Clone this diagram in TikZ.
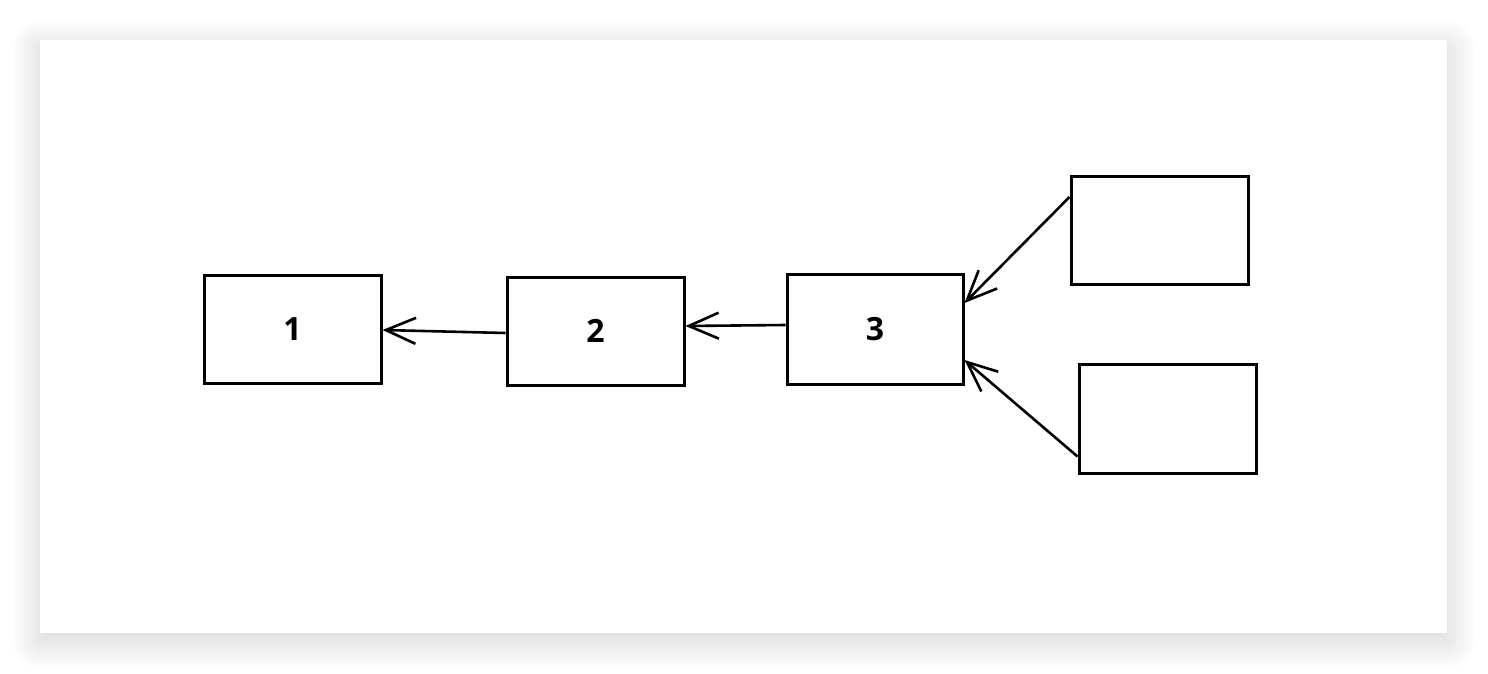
\documentclass[tikz,border=0pt]{standalone}
\usepackage{fontspec}
\setmainfont{Open Sans}
\usetikzlibrary{arrows.meta,shadows.blur}
\begin{document}
\begin{tikzpicture}[x=1pt,y=-1pt,
  card/.style={fill=white,draw=none,
    blur shadow={shadow xshift=0pt,shadow yshift=-8pt,shadow blur radius=30pt,
                 shadow blur steps=24,shadow opacity=18}},
  sketchbox/.style={draw=black,line width=3pt,minimum width=177pt,minimum height=108pt,
    inner sep=0pt,font=\fontsize{32}{32}\selectfont\bfseries},
  link/.style={draw=black,line width=2.6pt,
    -{Straight Barb[length=30pt,width=26pt,line width=2.6pt]}}]
  \useasboundingbox (0,0) rectangle (1488,674);
  % card with soft shadow
  \path[card] (40,40) rectangle (1447,633);
  % boxes
  \node[sketchbox] (n1) at (292.5,329) {1};
  \node[sketchbox] (n2) at (595.5,331) {2};
  \node[sketchbox,minimum width=176pt,minimum height=110pt] (n3) at (875,329) {3};
  \node[sketchbox] (n4) at (1159.5,230) {};
  \node[sketchbox,minimum height=109pt] (n5) at (1167.5,418.5) {};
  % connectors
  \draw[link] ([yshift=-2pt]n2.west) -- ([yshift=-1pt]n1.east);
  \draw[link] ([yshift=4pt]n3.west) -- ([yshift=5pt]n2.east);
  \draw[link] ([yshift=33pt]n4.west) -- ([yshift=26pt]n3.east);
  \draw[link] ([yshift=-38pt]n5.west) -- ([yshift=-31pt]n3.east);
\end{tikzpicture}
\end{document}
